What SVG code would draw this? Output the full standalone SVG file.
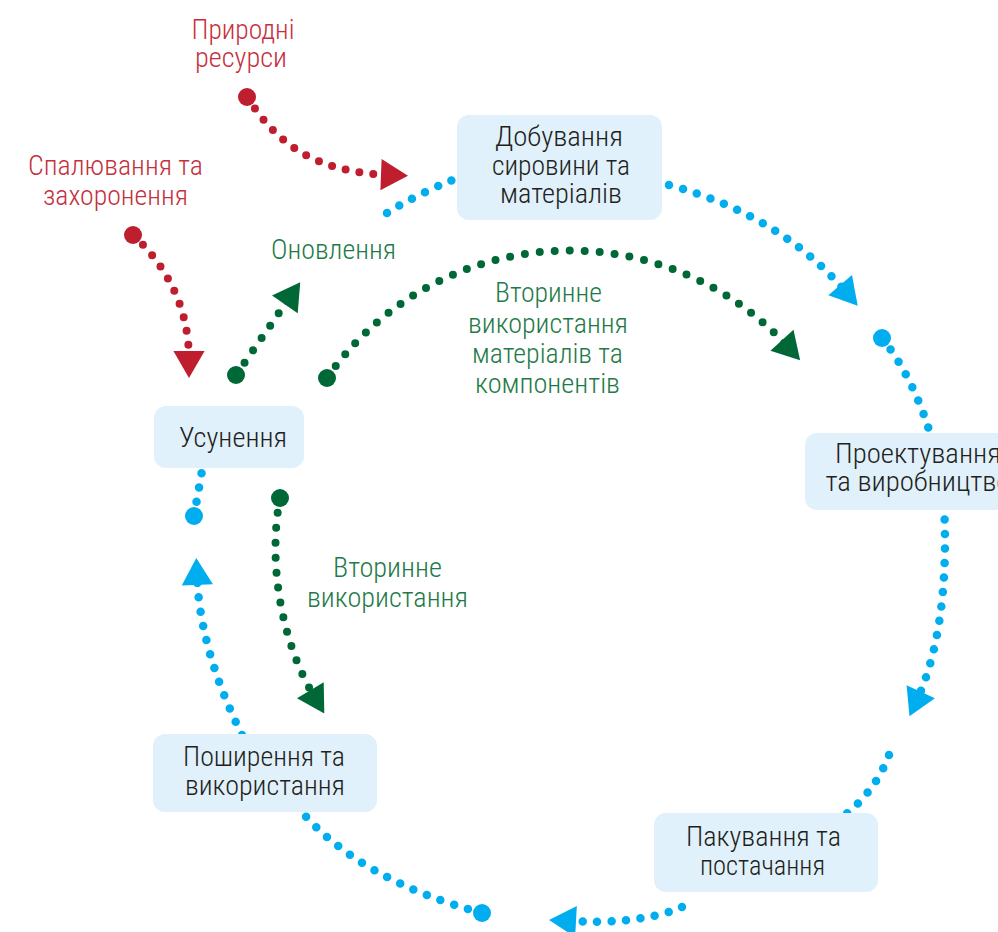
<svg xmlns="http://www.w3.org/2000/svg" width="998" height="932" viewBox="0 0 998 932">
<defs>
<style>
.dr{fill:none;stroke:#BE1E2D;stroke-width:8;stroke-linecap:round;stroke-dasharray:0 14}
.dg{fill:none;stroke:#006837;stroke-width:8;stroke-linecap:round;stroke-dasharray:0 15}
.db{fill:none;stroke:#00AEEF;stroke-width:8.5;stroke-linecap:round;stroke-dasharray:0 14.5}
.box{fill:#E0F1FB}
.nt{font-family:"Roboto Condensed","Liberation Sans Narrow",Roboto,"Liberation Sans",sans-serif;font-weight:300;font-size:28px;fill:#231F20;text-anchor:middle}
.lr{font-family:"Roboto Condensed","Liberation Sans Narrow",Roboto,"Liberation Sans",sans-serif;font-weight:300;font-size:27px;fill:#C4303D;text-anchor:middle}
.lg{font-family:"Roboto Condensed","Liberation Sans Narrow",Roboto,"Liberation Sans",sans-serif;font-weight:300;font-size:27px;fill:#1E7A48;text-anchor:middle}
</style>
<marker id="ar" markerUnits="userSpaceOnUse" viewBox="-18 -18 36 36" refX="0" refY="0" markerWidth="36" markerHeight="36" orient="auto"><path d="M18,0 L-9,15.6 L-9,-15.6 Z" fill="#BE1E2D"/></marker>
<marker id="ag" markerUnits="userSpaceOnUse" viewBox="-18 -18 36 36" refX="0" refY="0" markerWidth="36" markerHeight="36" orient="auto"><path d="M18,0 L-9,15.6 L-9,-15.6 Z" fill="#006837"/></marker>
<marker id="ab" markerUnits="userSpaceOnUse" viewBox="-18 -18 36 36" refX="0" refY="0" markerWidth="36" markerHeight="36" orient="auto"><path d="M18,0 L-9,15.6 L-9,-15.6 Z" fill="#00AEEF"/></marker>
</defs>
<rect width="998" height="932" fill="#FFFFFF"/>
<g id="connectors">
<path class="dr" d="M247,97 C275,140 310,172 390,175" marker-end="url(#ar)"/>
<circle cx="247" cy="97" r="9" fill="#BE1E2D"/>
<path class="dr" d="M133,235 C160,260 189,300 189,360" marker-end="url(#ar)"/>
<circle cx="133" cy="235" r="9" fill="#BE1E2D"/>
<path class="dg" d="M236,375 L290,297" marker-end="url(#ag)"/>
<circle cx="236" cy="375" r="9" fill="#006837"/>
<path class="dg" d="M327,378 A295,295 0 0 1 788,347" marker-end="url(#ag)"/>
<circle cx="327" cy="378" r="9" fill="#006837"/>
<path class="dg" d="M280,498 C268,560 280,640 315,698" marker-end="url(#ag)"/>
<circle cx="280" cy="498" r="9" fill="#006837"/>
<path class="db" d="M387,213 Q415,195 462,176"/>
<path class="db" d="M669,185 Q780,215 846,292" marker-end="url(#ab)"/>
<path class="db" d="M882,338 Q915,380 932,440"/>
<circle cx="882" cy="338" r="9" fill="#00AEEF"/>
<path class="db" d="M944,505 C948,580 940,650 917,700" marker-end="url(#ab)"/>
<path class="db" d="M889,755 Q876,790 845,815"/>
<path class="db" d="M682,907 Q640,925 567,921" marker-end="url(#ab)"/>
<path class="db" d="M482,913 Q360,880 300,810"/>
<circle cx="482" cy="913" r="9" fill="#00AEEF"/>
<path class="db" d="M242,735 Q200,650 197,576" marker-end="url(#ab)"/>
<path class="db" d="M194,516 L203,465"/>
<circle cx="194" cy="516" r="9" fill="#00AEEF"/>
</g>
<g id="labels">
<text class="lr" x="243" y="39" textLength="103" lengthAdjust="spacingAndGlyphs">Природні</text>
<text class="lr" x="241" y="67" textLength="92" lengthAdjust="spacingAndGlyphs">ресурси</text>
<text class="lr" x="115.5" y="175" textLength="175" lengthAdjust="spacingAndGlyphs">Спалювання та</text>
<text class="lr" x="115.5" y="205" textLength="145" lengthAdjust="spacingAndGlyphs">захоронення</text>
<text class="lg" x="333.5" y="259" textLength="125" lengthAdjust="spacingAndGlyphs">Оновлення</text>
<text class="lg" x="548.5" y="302" textLength="107" lengthAdjust="spacingAndGlyphs">Вторинне</text>
<text class="lg" x="548" y="333" textLength="160" lengthAdjust="spacingAndGlyphs">використання</text>
<text class="lg" x="547.5" y="363" textLength="151" lengthAdjust="spacingAndGlyphs">матеріалів та</text>
<text class="lg" x="547.5" y="393" textLength="145" lengthAdjust="spacingAndGlyphs">компонентів</text>
<text class="lg" x="387.5" y="577" textLength="109" lengthAdjust="spacingAndGlyphs">Вторинне</text>
<text class="lg" x="387.5" y="607" textLength="161" lengthAdjust="spacingAndGlyphs">використання</text>
</g>
<g id="node-extraction">
<rect class="box" x="457" y="115" width="205" height="105" rx="12"/>
<text class="nt" x="559" y="146" textLength="128" lengthAdjust="spacingAndGlyphs">Добування</text>
<text class="nt" x="561" y="175" textLength="138" lengthAdjust="spacingAndGlyphs">сировини та</text>
<text class="nt" x="561" y="203" textLength="122" lengthAdjust="spacingAndGlyphs">матеріалів</text>
</g>
<g id="node-design">
<rect class="box" x="805" y="433" width="226" height="77" rx="12"/>
<text class="nt" x="918" y="463" textLength="166" lengthAdjust="spacingAndGlyphs">Проектування</text>
<text class="nt" x="918" y="491" textLength="185" lengthAdjust="spacingAndGlyphs">та виробництво</text>
</g>
<g id="node-packaging">
<rect class="box" x="654" y="813" width="224" height="79" rx="12"/>
<text class="nt" x="763.5" y="846" textLength="155" lengthAdjust="spacingAndGlyphs">Пакування та</text>
<text class="nt" x="762.5" y="875" textLength="125" lengthAdjust="spacingAndGlyphs">постачання</text>
</g>
<g id="node-use">
<rect class="box" x="153" y="734" width="224" height="78" rx="12"/>
<text class="nt" x="264" y="766" textLength="162" lengthAdjust="spacingAndGlyphs">Поширення та</text>
<text class="nt" x="265" y="795" textLength="160" lengthAdjust="spacingAndGlyphs">використання</text>
</g>
<g id="node-disposal">
<rect class="box" x="154" y="406" width="150" height="62" rx="12"/>
<text class="nt" x="233" y="447" textLength="108" lengthAdjust="spacingAndGlyphs">Усунення</text>
</g>
</svg>
